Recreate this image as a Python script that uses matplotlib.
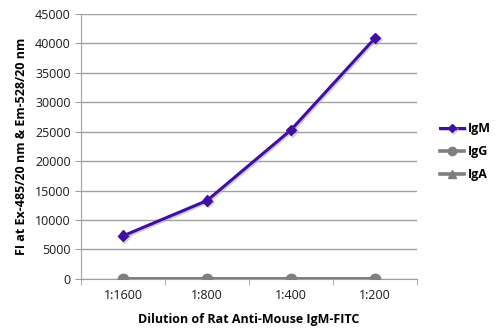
import matplotlib.pyplot as plt
import matplotlib.patheffects as pe
import numpy as np

dilutions = ["1:1600", "1:800", "1:400", "1:200"]
igm = [7300, 13300, 25300, 40900]
igg = [60, 60, 60, 60]
iga = [40, 40, 40, 40]

plt.rcParams["font.family"] = ["Open Sans", "DejaVu Sans"]

fig = plt.figure(figsize=(5, 3.32), dpi=100)
ax = fig.add_axes([0.162, 0.160, 0.672, 0.798])

x = np.arange(len(dilutions))
shadow = [pe.SimpleLineShadow(offset=(1, -1), shadow_color="#b0a8c8", alpha=0.6), pe.Normal()]

ax.plot(x, iga, color="#7f7f7f", lw=2.6, marker="^", ms=7, label="IgA", zorder=3)
ax.plot(x, igg, color="#7f7f7f", lw=2.6, marker="o", ms=7.5, label="IgG", zorder=4)
ax.plot(x, igm, color="#3f0fa0", lw=2.2, marker="D", ms=5.5, label="IgM", zorder=5,
        path_effects=shadow)

ax.set_xlim(-0.5, 3.5)
ax.set_ylim(0, 45000)
ax.set_yticks(np.arange(0, 45001, 5000))
ax.set_xticks(x)
ax.set_xticklabels(dilutions)
ax.set_xticks(np.arange(-0.5, 3.6, 1), minor=True)
ax.tick_params(axis="x", which="major", length=0, labelsize=9, pad=7, colors="#1a1a1a")
ax.tick_params(axis="x", which="minor", length=4, color="#a0a0a0", direction="out")
ax.tick_params(axis="y", length=4, color="#a0a0a0", labelsize=9, colors="#1a1a1a")

ax.grid(axis="y", color="#a0a0a0", lw=1)
ax.set_axisbelow(True)
for s in ["top", "right"]:
    ax.spines[s].set_visible(False)
for s in ["left", "bottom"]:
    ax.spines[s].set_color("#a0a0a0")

ax.set_xlabel("Dilution of Rat Anti-Mouse IgM-FITC", fontsize=9, fontweight="bold", labelpad=8)
ax.set_ylabel("FI at Ex-485/20 nm & Em-528/20 nm", fontsize=9, fontweight="bold", labelpad=5)

handles, labels = ax.get_legend_handles_labels()
order = [2, 1, 0]
ax.legend([handles[i] for i in order], [labels[i] for i in order],
          loc="center left", bbox_to_anchor=(1.035, 0.48), frameon=False,
          handlelength=1.9, labelspacing=0.8, handletextpad=0.3, markerscale=0.8,
          prop={"weight": "bold", "size": 9})

fig.savefig("out.png", dpi=100)
